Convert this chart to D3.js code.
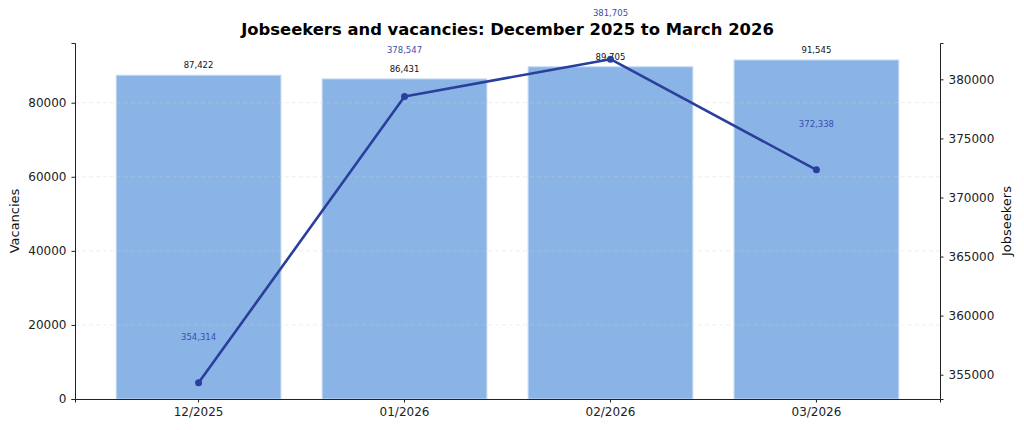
<!DOCTYPE html>
<html>
<head>
<meta charset="utf-8">
<script src="https://cdn.jsdelivr.net/npm/d3@7"></script>
<style>
  body { margin: 0; background: #fff; }
  text { font-family: "DejaVu Sans", sans-serif; }
</style>
</head>
<body>
<div id="chart"></div>
<script>
var months = ["12/2025", "01/2026", "02/2026", "03/2026"];
var vacancies = [87422, 86431, 89705, 91545];
var jobseekers = [354314, 378547, 381705, 372338];
var vacancyTicks = [0, 20000, 40000, 60000, 80000];
var jobseekerTicks = [355000, 360000, 365000, 370000, 375000, 380000];

var margin = { top: 43, right: 84, bottom: 31, left: 75 },
    width = 1024 - margin.left - margin.right,
    height = 430 - margin.top - margin.bottom;

var svg = d3.select("#chart").append("svg")
    .attr("width", 1024)
    .attr("height", 430)
    .append("g")
    .attr("transform", "translate(" + margin.left + "," + margin.top + ")");

var x = d3.scaleBand()
    .domain(months)
    .range([0, width])
    .paddingInner(0.2)
    .paddingOuter(0.2);

var y = d3.scaleLinear()
    .domain([0, d3.max(vacancies) * 1.05])
    .range([height, 0]);

var jMin = d3.min(jobseekers), jMax = d3.max(jobseekers), jPad = (jMax - jMin) * 0.05;
var y2 = d3.scaleLinear()
    .domain([jMin - jPad, jMax + jPad])
    .range([height, 0]);

// bars
svg.selectAll(".bar")
    .data(vacancies)
    .enter().append("rect")
    .attr("class", "bar")
    .attr("x", function (d, i) { return x(months[i]); })
    .attr("width", x.bandwidth())
    .attr("y", function (d) { return y(d); })
    .attr("height", function (d) { return height - y(d); })
    .attr("fill", "#8ab4e6")
    .attr("stroke", "#c6dcf5")
    .attr("stroke-width", 1);

// grid
svg.append("g")
    .selectAll("line")
    .data(vacancyTicks.slice(1))
    .enter().append("line")
    .attr("x1", 0)
    .attr("x2", width)
    .attr("y1", function (d) { return y(d); })
    .attr("y2", function (d) { return y(d); })
    .attr("stroke", "#cccccc")
    .attr("stroke-opacity", 0.45)
    .attr("stroke-dasharray", "4,3")
    .attr("stroke-width", 0.8);

// bar labels
svg.selectAll(".barlabel")
    .data(vacancies)
    .enter().append("text")
    .attr("x", function (d, i) { return x(months[i]) + x.bandwidth() / 2; })
    .attr("y", function (d) { return y(d) - 7; })
    .attr("text-anchor", "middle")
    .attr("font-size", "8.5px")
    .attr("fill", "#111")
    .text(function (d) { return d3.format(",")(d); });

// line
var line = d3.line()
    .x(function (d, i) { return x(months[i]) + x.bandwidth() / 2; })
    .y(function (d) { return y2(d); });

svg.append("path")
    .datum(jobseekers)
    .attr("fill", "none")
    .attr("stroke", "#2a3f9c")
    .attr("stroke-width", 2.6)
    .attr("stroke-linejoin", "round")
    .attr("d", line);

svg.selectAll(".dot")
    .data(jobseekers)
    .enter().append("circle")
    .attr("cx", function (d, i) { return x(months[i]) + x.bandwidth() / 2; })
    .attr("cy", function (d) { return y2(d); })
    .attr("r", 3.5)
    .attr("fill", "#2a3f9c");

svg.selectAll(".linelabel")
    .data(jobseekers)
    .enter().append("text")
    .attr("x", function (d, i) { return x(months[i]) + x.bandwidth() / 2; })
    .attr("y", function (d) { return y2(d) - 43; })
    .attr("text-anchor", "middle")
    .attr("font-size", "8.5px")
    .attr("fill", "#3b4fae")
    .text(function (d) { return d3.format(",")(d); });

// axes
svg.append("g")
    .attr("transform", "translate(0," + height + ")")
    .call(d3.axisBottom(x).tickSizeOuter(0).tickSize(3.5).tickPadding(5));

svg.append("g")
    .call(d3.axisLeft(y).tickValues(vacancyTicks).tickFormat(d3.format("d")).tickSizeOuter(0).tickSize(3.5).tickPadding(5));

svg.append("g")
    .attr("transform", "translate(" + width + ",0)")
    .call(d3.axisRight(y2).tickValues(jobseekerTicks).tickFormat(d3.format("d")).tickSizeOuter(0).tickSize(3.5).tickPadding(5));

svg.selectAll(".tick text")
    .attr("font-family", "DejaVu Sans, sans-serif")
    .style("font-size", "12px")
    .attr("fill", "#222");
svg.selectAll(".domain, .tick line").attr("stroke", "#222");

// axis titles
svg.append("text")
    .attr("transform", "rotate(-90)")
    .attr("x", -height / 2)
    .attr("y", -56)
    .attr("text-anchor", "middle")
    .attr("font-size", "13px")
    .attr("fill", "#111")
    .text("Vacancies");

svg.append("text")
    .attr("transform", "rotate(-90)")
    .attr("x", -height / 2)
    .attr("y", width + 71)
    .attr("text-anchor", "middle")
    .attr("font-size", "13px")
    .attr("fill", "#111")
    .text("Jobseekers");

svg.append("text")
    .attr("x", width / 2)
    .attr("y", -8)
    .attr("text-anchor", "middle")
    .attr("font-size", "16.4px")
    .attr("font-weight", "bold")
    .attr("fill", "#000")
    .text("Jobseekers and vacancies: December 2025 to March 2026");
</script>
</body>
</html>
